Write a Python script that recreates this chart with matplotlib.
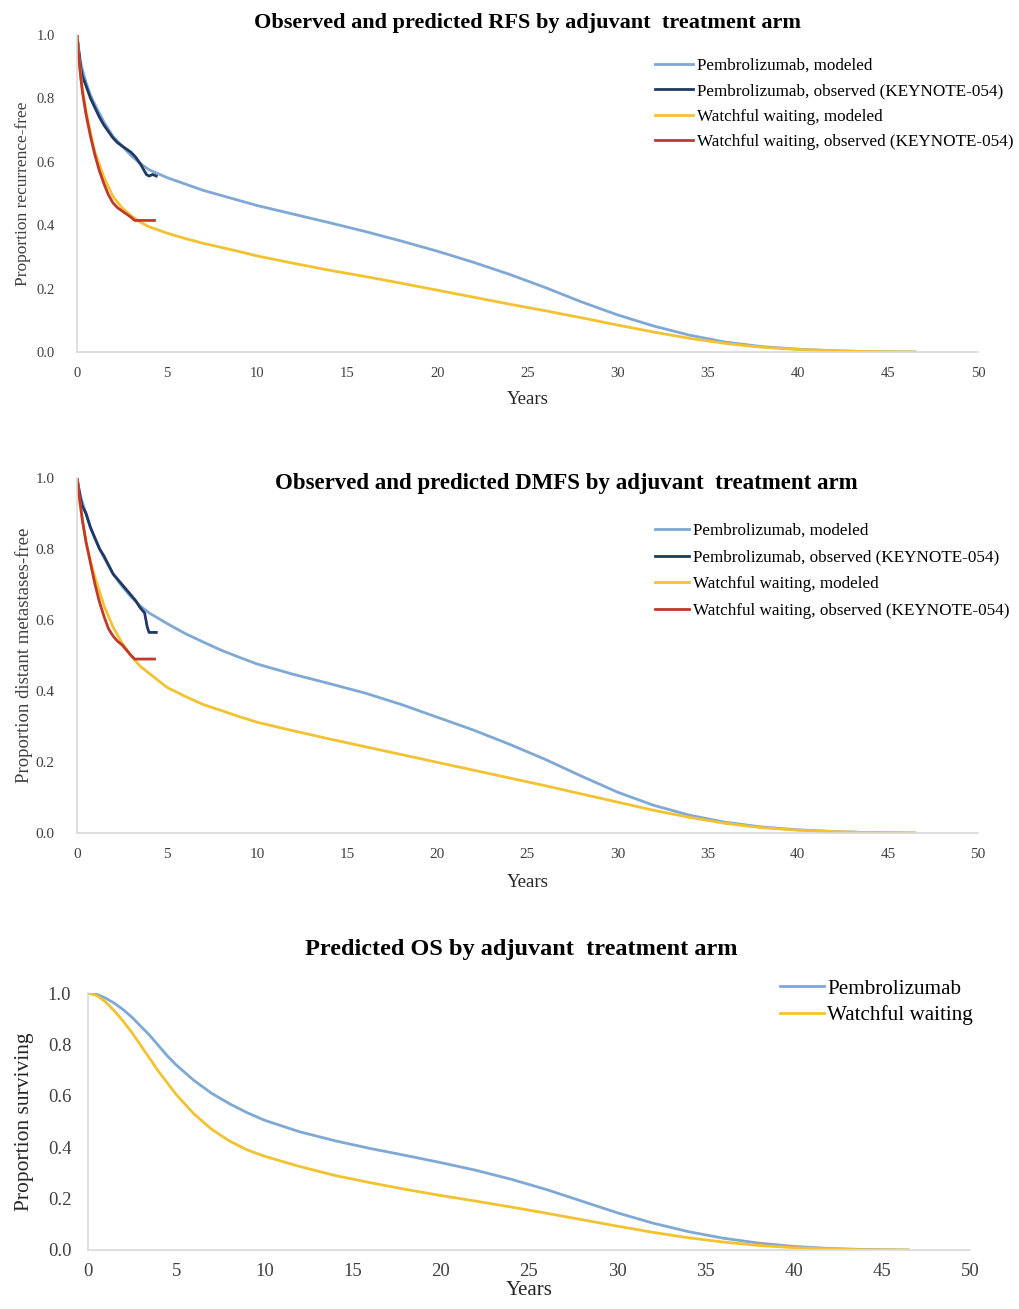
import matplotlib
matplotlib.use("Agg")
import matplotlib.pyplot as plt

plt.rcParams['font.family'] = ['Liberation Serif', 'DejaVu Serif']

# colours (Excel-like palette)
C_PEM_MOD = "#7fa8d4"
C_PEM_OBS = "#1f3864"
C_WW_MOD = "#f2c230"
C_WW_OBS = "#c0392b"

# ---- RFS / DMFS modeled curves share the same time grid ----
mod_years = [0, 0.1, 0.25, 0.5, 0.75, 1, 1.5, 2, 2.5, 3, 3.5, 4, 5, 6, 7, 8, 9, 10, 12, 14,
             16, 18, 20, 22, 24, 26, 28, 30, 32, 34, 36, 38, 40, 42, 44, 46.5]
rfs_pem_mod = [1.0, 0.95, 0.90, 0.85, 0.81, 0.78, 0.725, 0.68, 0.65, 0.62, 0.595, 0.575,
               0.55, 0.53, 0.51, 0.494, 0.478, 0.462, 0.435, 0.408, 0.38, 0.35, 0.318,
               0.283, 0.245, 0.203, 0.158, 0.117, 0.082, 0.053, 0.031, 0.017, 0.009, 0.004,
               0.001, 0.0]
rfs_ww_mod = [1.0, 0.93, 0.85, 0.76, 0.69, 0.63, 0.55, 0.49, 0.455, 0.43, 0.41, 0.395,
              0.375, 0.358, 0.343, 0.33, 0.317, 0.303, 0.28, 0.258, 0.238, 0.217, 0.195,
              0.173, 0.151, 0.13, 0.108, 0.085, 0.063, 0.043, 0.027, 0.015, 0.008, 0.004,
              0.001, 0.0]
dmfs_pem_mod = [1.0, 0.97, 0.94, 0.90, 0.86, 0.83, 0.775, 0.73, 0.695, 0.665, 0.64, 0.62,
                0.59, 0.562, 0.538, 0.515, 0.495, 0.476, 0.447, 0.421, 0.394, 0.362, 0.326,
                0.29, 0.25, 0.207, 0.16, 0.115, 0.078, 0.05, 0.03, 0.017, 0.009, 0.004,
                0.001, 0.0]
dmfs_ww_mod = [1.0, 0.95, 0.90, 0.82, 0.765, 0.72, 0.64, 0.58, 0.535, 0.50, 0.47, 0.45,
               0.41, 0.385, 0.362, 0.345, 0.328, 0.312, 0.288, 0.265, 0.243, 0.221, 0.199,
               0.177, 0.155, 0.133, 0.11, 0.087, 0.064, 0.044, 0.027, 0.015, 0.008, 0.004,
               0.001, 0.0]

# ---- KEYNOTE-054 observed ----
rfs_pem_obs_t = [0, 0.1, 0.2, 0.3, 0.5, 0.75, 1.0, 1.25, 1.5, 1.75, 2.0, 2.25, 2.5,
                 2.75, 3.0, 3.25, 3.5, 3.7, 3.85, 4.0, 4.2, 4.4]
rfs_pem_obs = [1.0, 0.95, 0.90, 0.87, 0.84, 0.80, 0.77, 0.74, 0.715, 0.695, 0.675, 0.66,
               0.65, 0.64, 0.63, 0.615, 0.595, 0.575, 0.56, 0.555, 0.56, 0.555]
rfs_ww_obs_t = [0, 0.1, 0.2, 0.3, 0.5, 0.75, 1.0, 1.25, 1.5, 1.75, 2.0, 2.25, 2.5, 2.75,
                3.0, 3.2, 3.5, 3.8, 4.3]
rfs_ww_obs = [1.0, 0.93, 0.87, 0.82, 0.75, 0.68, 0.62, 0.57, 0.53, 0.495, 0.47, 0.455,
              0.445, 0.435, 0.425, 0.415, 0.415, 0.415, 0.415]
dmfs_pem_obs_t = [0, 0.1, 0.2, 0.3, 0.5, 0.75, 1.0, 1.25, 1.5, 1.75, 2.0, 2.25, 2.5, 2.75,
                  3.0, 3.25, 3.5, 3.75, 3.9, 4.0, 4.2, 4.4]
dmfs_pem_obs = [1.0, 0.97, 0.94, 0.92, 0.90, 0.86, 0.83, 0.80, 0.78, 0.755, 0.73, 0.715,
                0.70, 0.685, 0.67, 0.655, 0.635, 0.62, 0.58, 0.565, 0.565, 0.565]
dmfs_ww_obs_t = [0, 0.1, 0.2, 0.3, 0.5, 0.75, 1.0, 1.25, 1.5, 1.75, 2.0, 2.25, 2.5, 2.75,
                 3.0, 3.2, 3.5, 3.8, 4.3]
dmfs_ww_obs = [1.0, 0.96, 0.92, 0.88, 0.82, 0.76, 0.70, 0.65, 0.61, 0.575, 0.555, 0.54,
               0.53, 0.515, 0.50, 0.49, 0.49, 0.49, 0.49]

# ---- OS ----
os_years = [0, 0.5, 1, 1.5, 2, 2.5, 3, 3.5, 4, 4.5, 5, 6, 7, 8, 9, 10, 12, 14, 16, 18, 20,
            22, 24, 26, 28, 30, 32, 34, 36, 38, 40, 42, 44, 46.5]
os_pem = [1.0, 0.995, 0.98, 0.96, 0.935, 0.905, 0.87, 0.835, 0.795, 0.755, 0.72, 0.66,
          0.61, 0.57, 0.535, 0.505, 0.46, 0.425, 0.395, 0.368, 0.34, 0.31, 0.275, 0.235,
          0.19, 0.145, 0.105, 0.072, 0.046, 0.027, 0.014, 0.006, 0.002, 0.0]
os_ww = [1.0, 0.99, 0.965, 0.93, 0.89, 0.845, 0.795, 0.745, 0.695, 0.65, 0.605, 0.53,
         0.47, 0.425, 0.39, 0.365, 0.325, 0.29, 0.262, 0.236, 0.212, 0.19, 0.167, 0.143,
         0.118, 0.093, 0.069, 0.048, 0.031, 0.018, 0.009, 0.004, 0.001, 0.0]

x_ticks = list(range(0, 51, 5))
y_ticks = [0.0, 0.2, 0.4, 0.6, 0.8, 1.0]

fig = plt.figure(figsize=(10.2, 13.09), dpi=100)
W, H = 1020, 1309


def axes_px(left, right, top, bottom):
    return fig.add_axes([left / W, 1 - bottom / H, (right - left) / W, (bottom - top) / H])


def style(ax, fs, xpad, ypad):
    ax.set_xlim(0, 50)
    ax.set_ylim(0, 1)
    ax.set_xticks(x_ticks)
    ax.set_yticks(y_ticks)
    ax.set_yticklabels([f"{v:.1f}" for v in y_ticks])
    for s in ["top", "right"]:
        ax.spines[s].set_visible(False)
    for s in ["left", "bottom"]:
        ax.spines[s].set_color("#d9d9d9")
        ax.spines[s].set_linewidth(1.2)
    ax.tick_params(length=0, labelsize=fs, colors="#404040")
    ax.tick_params(axis="x", pad=xpad)
    ax.tick_params(axis="y", pad=ypad)


lw = 2.0

# panel 1: RFS
ax1 = axes_px(77, 978, 35, 352)
ax1.plot(mod_years, rfs_pem_mod, color=C_PEM_MOD, lw=lw, label="Pembrolizumab, modeled")
ax1.plot(rfs_pem_obs_t, rfs_pem_obs, color=C_PEM_OBS, lw=lw,
         label="Pembrolizumab, observed (KEYNOTE-054)")
ax1.plot(mod_years, rfs_ww_mod, color=C_WW_MOD, lw=lw, label="Watchful waiting, modeled")
ax1.plot(rfs_ww_obs_t, rfs_ww_obs, color=C_WW_OBS, lw=lw,
         label="Watchful waiting, observed (KEYNOTE-054)")
style(ax1, 10.5, 11, 16)
ax1.set_xlabel("Years", fontsize=13.5, color="#262626", labelpad=8)
ax1.set_ylabel("Proportion recurrence-free", fontsize=12.5, color="#404040", labelpad=4)
ax1.set_title("Observed and predicted RFS by adjuvant  treatment arm", fontsize=16,
              fontweight="bold", pad=5)
ax1.legend(loc="upper left", bbox_to_anchor=(655 / W, 1 - 58 / H), bbox_transform=fig.transFigure,
           frameon=False, fontsize=12.3, handlelength=2.2, handletextpad=0.25, labelspacing=0.55,
           borderpad=0, borderaxespad=0)

# panel 2: DMFS
ax2 = axes_px(77, 978, 478, 833)
ax2.plot(mod_years, dmfs_pem_mod, color=C_PEM_MOD, lw=lw, label="Pembrolizumab, modeled")
ax2.plot(dmfs_pem_obs_t, dmfs_pem_obs, color=C_PEM_OBS, lw=lw,
         label="Pembrolizumab, observed (KEYNOTE-054)")
ax2.plot(mod_years, dmfs_ww_mod, color=C_WW_MOD, lw=lw, label="Watchful waiting, modeled")
ax2.plot(dmfs_ww_obs_t, dmfs_ww_obs, color=C_WW_OBS, lw=lw,
         label="Watchful waiting, observed (KEYNOTE-054)")
style(ax2, 11, 11, 16)
ax2.set_xlabel("Years", fontsize=13.5, color="#262626", labelpad=9)
ax2.set_ylabel("Proportion distant metastases-free", fontsize=13.5, color="#404040", labelpad=2)
fig.text(566 / W, 1 - 484 / H, "Observed and predicted DMFS by adjuvant  treatment arm",
         ha="center", va="center", fontsize=16.5, fontweight="bold")
ax2.legend(loc="upper left", bbox_to_anchor=(655 / W, 1 - 523 / H), bbox_transform=fig.transFigure,
           frameon=False, fontsize=12.3, handlelength=2.0, handletextpad=0.25, labelspacing=0.62,
           borderpad=0, borderaxespad=0)

# panel 3: OS
ax3 = axes_px(88, 970, 993, 1250)
ax3.plot(os_years, os_pem, color=C_PEM_MOD, lw=lw, label="Pembrolizumab")
ax3.plot(os_years, os_ww, color=C_WW_MOD, lw=lw, label="Watchful waiting")
style(ax3, 13.5, 9, 12)
ax3.set_xlabel("Years", fontsize=15, color="#262626", labelpad=1)
ax3.set_ylabel("Proportion surviving", fontsize=15.5, color="#262626", labelpad=10)
fig.text(521 / W, 1 - 950 / H, "Predicted OS by adjuvant  treatment arm",
         ha="center", va="center", fontsize=17.5, fontweight="bold")
ax3.legend(loc="upper left", bbox_to_anchor=(780 / W, 1 - 979 / H), bbox_transform=fig.transFigure,
           frameon=False, fontsize=15.2, handlelength=2.1, handletextpad=0.15, labelspacing=0.3,
           borderpad=0, borderaxespad=0)

fig.savefig("out.png", dpi=100)
